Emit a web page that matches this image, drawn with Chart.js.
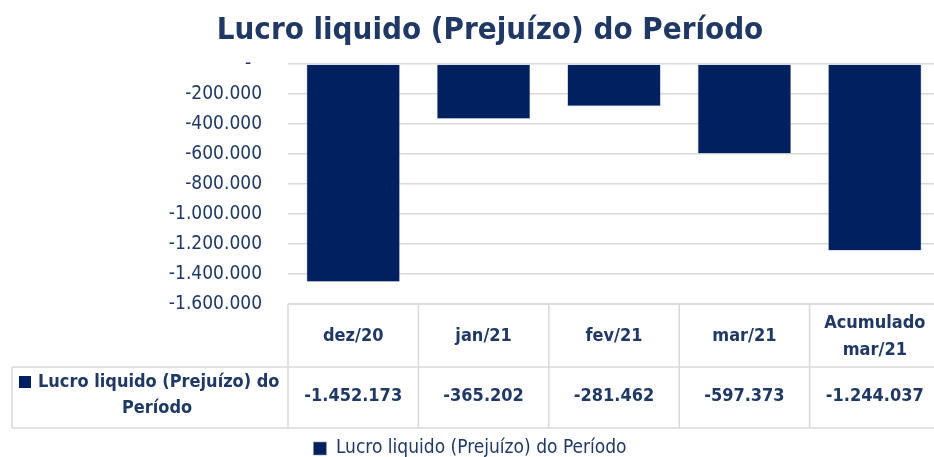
<!DOCTYPE html>
<html>
<head>
<meta charset="utf-8">
<script src="https://cdn.jsdelivr.net/npm/chart.js@4/dist/chart.umd.min.js"></script>
<style>
  html, body { margin: 0; padding: 0; background: #fff; }
  #wrap { width: 934px; height: 457px; overflow: hidden; position: relative; }
  canvas { position: absolute; left: 0; top: 0; }
</style>
</head>
<body>
<div id="wrap"><canvas id="lucro" width="940" height="468"></canvas></div>
<script>
// Dados
var periodos = ["dez/20", "jan/21", "fev/21", "mar/21", ["Acumulado", "mar/21"]];
var lucroPeriodo = [-1452173, -365202, -281462, -597373, -1244037];
var serieNome = "Lucro liquido (Prejuízo) do Período";
var tituloTexto = "Lucro liquido (Prejuízo) do Período";

var azul = "#002060";
var texto = "#1f3864";
var linha = "#d9d9d9";
var fonte = "'Liberation Sans Narrow', 'DejaVu Sans Condensed', sans-serif";

// formato 1.234.567 (pt-BR), zero como "-" (contabil)
function fmt(v) {
  if (v == 0) return "-  ";
  var s = Math.abs(Math.round(v)).toString().replace(/\B(?=(\d{3})+(?!\d))/g, ".");
  return (v < 0 ? "-" : "") + s;
}

// titulo + tabela de dados abaixo do grafico
var tabelaPlugin = {
  id: "tabela",
  afterDraw: function(chart) {
    var ctx = chart.ctx;
    var area = chart.chartArea;
    var x = chart.scales.x;
    var n = periodos.length;
    var w = (area.right - area.left) / n;
    var top = area.bottom;
    var meio = top + 63;
    var fim = meio + 61;
    var esq = 12;

    ctx.save();
    // titulo
    ctx.fillStyle = texto;
    ctx.font = "bold 31px " + fonte;
    ctx.textAlign = "center";
    ctx.textBaseline = "middle";
    ctx.fillText(tituloTexto, 490, 31);

    // linhas da tabela
    ctx.strokeStyle = linha;
    ctx.lineWidth = 1.5;
    ctx.beginPath();
    ctx.moveTo(area.left, top); ctx.lineTo(area.right, top);
    ctx.moveTo(esq, meio); ctx.lineTo(area.right, meio);
    ctx.moveTo(esq, fim); ctx.lineTo(area.right, fim);
    ctx.moveTo(esq, meio); ctx.lineTo(esq, fim);
    for (var i = 0; i <= n; i++) {
      var cx = area.left + i * w;
      ctx.moveTo(cx, top); ctx.lineTo(cx, fim);
    }
    ctx.stroke();

    // cabecalho e valores
    ctx.font = "bold 18px " + fonte;
    ctx.fillStyle = texto;
    for (var i = 0; i < n; i++) {
      var c = x.getPixelForValue(i);
      var lab = periodos[i];
      if (Array.isArray(lab)) {
        ctx.fillText(lab[0], c, top + 19);
        ctx.fillText(lab[1], c, top + 46);
      } else {
        ctx.fillText(lab, c, top + 32);
      }
      ctx.fillText(fmt(lucroPeriodo[i]), c, meio + 29);
    }

    // rotulo da serie
    ctx.textAlign = "left";
    ctx.fillText("Lucro liquido (Prejuízo) do", 38, meio + 15);
    ctx.textAlign = "center";
    ctx.fillText("Período", 157, meio + 41);
    ctx.fillStyle = azul;
    ctx.fillRect(19, meio + 9, 12, 12);
    ctx.restore();
  }
};

new Chart(document.getElementById("lucro"), {
  type: "bar",
  data: {
    labels: periodos,
    datasets: [{
      label: serieNome,
      data: lucroPeriodo,
      backgroundColor: azul,
      borderColor: "#8497b0",
      borderWidth: 0.6,
      barPercentage: 0.715,
      categoryPercentage: 1
    }]
  },
  options: {
    responsive: false,
    animation: false,
    layout: { padding: { top: 64, right: 0, left: 0, bottom: 0 } },
    scales: {
      x: {
        ticks: { display: false },
        grid: { display: false },
        border: { display: false },
        afterFit: function(s) { s.height = 131; }
      },
      y: {
        min: -1600000,
        max: 0,
        ticks: {
          stepSize: 200000,
          padding: 26,
          color: texto,
          font: { family: fonte, size: 19 },
          callback: function(v) { return fmt(v); }
        },
        grid: { color: linha, lineWidth: 1.5, drawTicks: false },
        border: { display: false },
        afterFit: function(s) { s.width = 288; }
      }
    },
    plugins: {
      title: { display: false },
      tooltip: { enabled: false },
      legend: {
        position: "bottom",
        labels: {
          color: texto,
          boxWidth: 13,
          boxHeight: 13,
          padding: 4,
          font: { family: fonte, size: 19 }
        }
      }
    }
  },
  plugins: [tabelaPlugin]
});
</script>
</body>
</html>
